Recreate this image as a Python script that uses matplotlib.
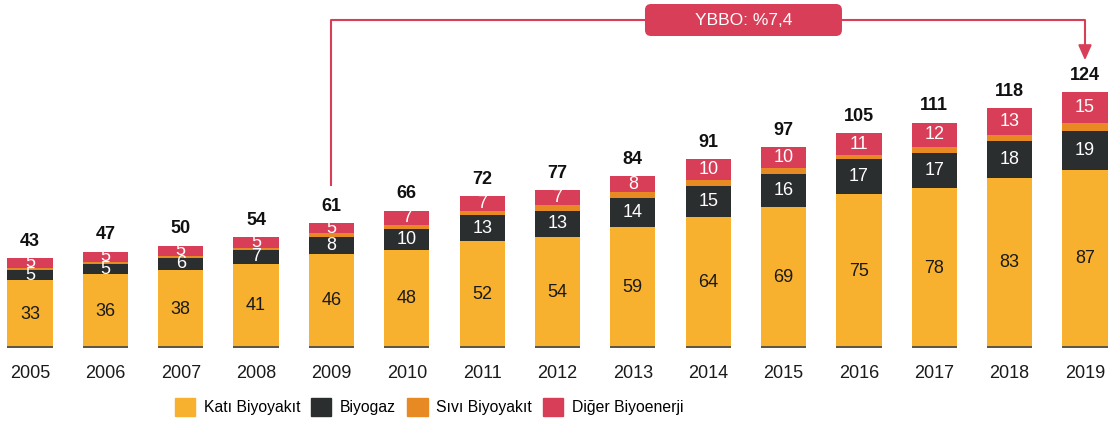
import matplotlib
matplotlib.use("Agg")
import matplotlib.pyplot as plt
from matplotlib.patches import FancyBboxPatch, Patch
import numpy as np

plt.rcParams['font.family'] = ['Liberation Sans', 'DejaVu Sans']

years = ["2005", "2006", "2007", "2008", "2009", "2010", "2011", "2012",
         "2013", "2014", "2015", "2016", "2017", "2018", "2019"]
kati = [33, 36, 38, 41, 46, 48, 52, 54, 59, 64, 69, 75, 78, 83, 87]
biyogaz = [5, 5, 6, 7, 8, 10, 13, 13, 14, 15, 16, 17, 17, 18, 19]
sivi = [1, 1, 1, 1, 2, 2, 2, 3, 3, 3, 3, 2, 3, 3, 4]
diger = [5, 5, 5, 5, 5, 7, 7, 7, 8, 10, 10, 11, 12, 13, 15]
totals = [43, 47, 50, 54, 61, 66, 72, 77, 84, 91, 97, 105, 111, 118, 124]
series_names = ["Katı Biyoyakıt", "Biyogaz", "Sıvı Biyoyakıt", "Diğer Biyoenerji"]
cagr_text = "YBBO: %7,4"

c_kati = "#F7B12E"
c_gaz = "#2B2E2F"
c_sivi = "#E88A24"
c_diger = "#D83E57"

W, H = 1113, 423
fig = plt.figure(figsize=(W / 100, H / 100), dpi=100)
base_px = 348
ax = fig.add_axes([0, (H - base_px) / H, 1, base_px / H])
ppu = 2.05
ax.set_ylim(0, base_px / ppu)
sp = 75.36
ax.set_xlim(-30 / sp, 14 + (W - 1085) / sp)
for s in ax.spines.values():
    s.set_visible(False)
ax.set_yticks([])

x = np.arange(len(years))
bw = 0.6
k = np.array(kati); g = np.array(biyogaz); s_ = np.array(sivi); d = np.array(diger)
ax.bar(x, k, bw, color=c_kati, zorder=2)
ax.bar(x, g, bw, bottom=k, color=c_gaz, zorder=2)
ax.bar(x, s_, bw, bottom=k + g, color=c_sivi, zorder=2)
ax.bar(x, d, bw, bottom=k + g + s_, color=c_diger, zorder=2)
ax.hlines([0.3] * len(x), x - bw / 2, x + bw / 2, color="#444444", lw=1.2, zorder=3)

fs = 13
for i in range(len(x)):
    ax.text(x[i], k[i] / 2, str(kati[i]), ha="center", va="center", fontsize=fs, color="#1a1a1a", zorder=4)
    ax.text(x[i], k[i] + g[i] / 2, str(biyogaz[i]), ha="center", va="center", fontsize=fs, color="white", zorder=4)
    top = k[i] + g[i] + s_[i] + d[i]
    ax.text(x[i], top - d[i] / 2, str(diger[i]), ha="center", va="center", fontsize=fs, color="white", zorder=4)
    ax.annotate(str(totals[i]), (x[i], top), xytext=(0, 12), textcoords="offset points",
                ha="center", va="center", fontsize=fs, fontweight="bold", color="#111111")

ax.set_xticks(x)
ax.set_xticklabels(years, fontsize=fs, color="#1a1a1a")
ax.tick_params(axis="x", length=0, pad=12)

# CAGR annotation
top_y = (base_px - 20) / ppu
y_start = totals[4] + 18
y_tip = totals[-1] + 15
ax.plot([x[4], x[4], x[-1], x[-1]], [y_start, top_y, top_y, y_tip + 4],
        color=c_diger, lw=1.5, clip_on=False, zorder=5, solid_capstyle="butt")
ax.annotate("", xy=(x[-1], y_tip), xytext=(x[-1], y_tip + 7),
            arrowprops=dict(arrowstyle="-|>,head_width=0.4,head_length=0.9", color=c_diger, lw=1.5),
            annotation_clip=False)
bx0 = (645 - 30) / sp
bx1 = (842 - 30) / sp
by0 = (base_px - 36) / ppu
by1 = (base_px - 4) / ppu
box = FancyBboxPatch((bx0, by0), bx1 - bx0, by1 - by0,
                     boxstyle="round,pad=0,rounding_size=0.08", mutation_aspect=sp / ppu,
                     fc=c_diger, ec="none", clip_on=False, zorder=6)
ax.add_patch(box)
ax.text((bx0 + bx1) / 2, (by0 + by1) / 2, cagr_text, ha="center", va="center",
        fontsize=12.5, color="white", zorder=7)

handles = [Patch(color=c) for c in [c_kati, c_gaz, c_sivi, c_diger]]
fig.legend(handles, series_names, loc="center", bbox_to_anchor=(429 / W, (H - 407) / H), ncol=4,
           frameon=False, fontsize=11.3, handlelength=1.3, handleheight=1.3,
           columnspacing=0.7, handletextpad=0.55)

fig.savefig("out.png", dpi=100)
